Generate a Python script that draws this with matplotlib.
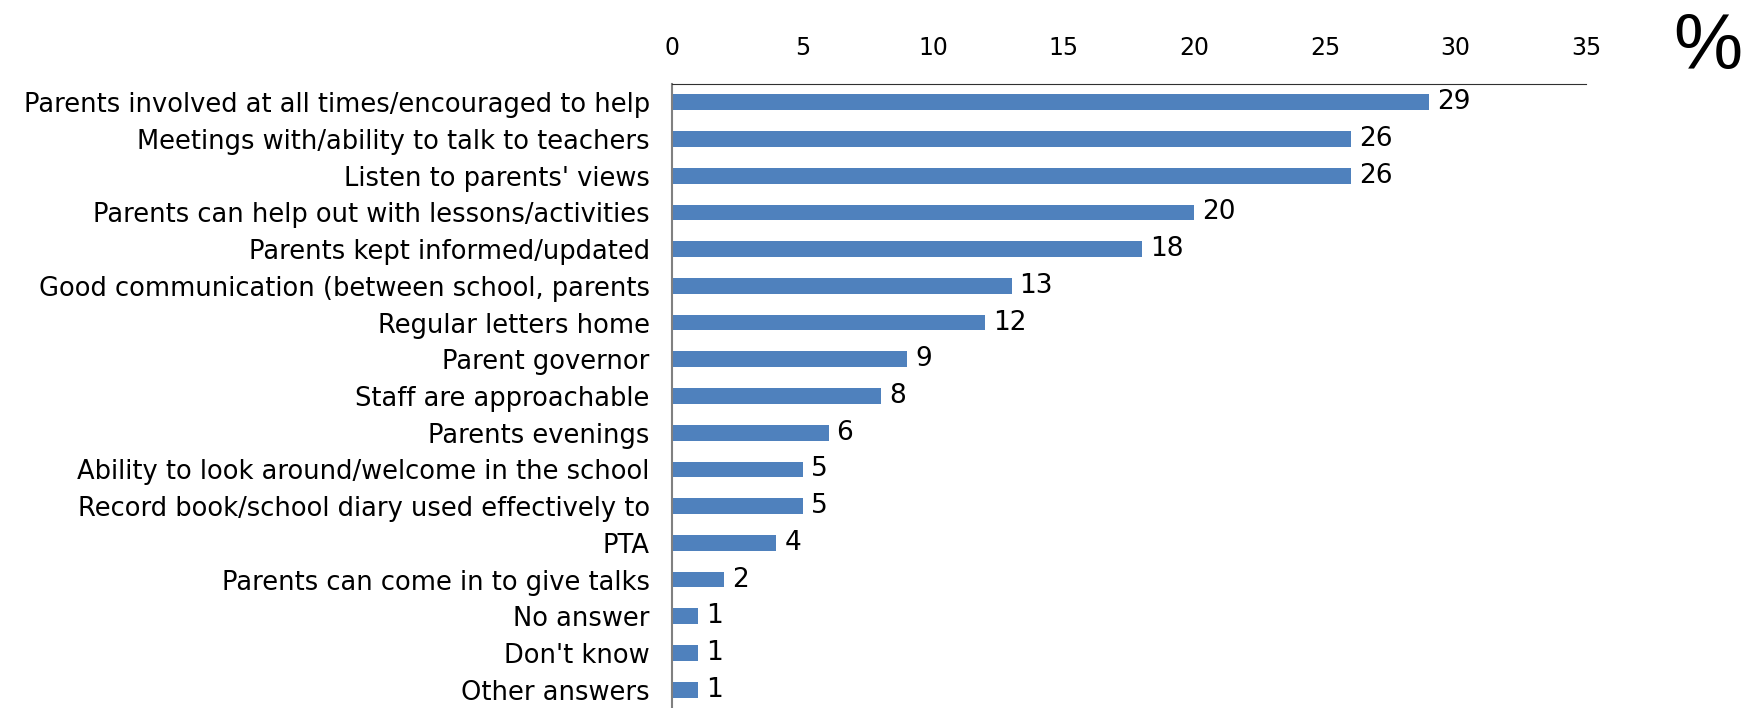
import matplotlib.pyplot as plt

categories = [
    "Parents involved at all times/encouraged to help",
    "Meetings with/ability to talk to teachers",
    "Listen to parents' views",
    "Parents can help out with lessons/activities",
    "Parents kept informed/updated",
    "Good communication (between school, parents",
    "Regular letters home",
    "Parent governor",
    "Staff are approachable",
    "Parents evenings",
    "Ability to look around/welcome in the school",
    "Record book/school diary used effectively to",
    "PTA",
    "Parents can come in to give talks",
    "No answer",
    "Don't know",
    "Other answers",
]
values = [29, 26, 26, 20, 18, 13, 12, 9, 8, 6, 5, 5, 4, 2, 1, 1, 1]
x_ticks = [0, 5, 10, 15, 20, 25, 30, 35]

plt.rcParams['font.family'] = ['DejaVu Sans']

fig = plt.figure(figsize=(17.51, 7.08), dpi=100)
ax = fig.add_axes([0.3838, 0.0, 0.5220, 0.8814])

pos = list(range(len(categories)))
ax.barh(pos, values, height=0.43, color='#4F81BD')
for p, v in zip(pos, values):
    ax.text(v + 0.3, p, str(v), va='center', ha='left', fontsize=19)

ax.set_xlim(0, 35)
ax.set_ylim(len(categories) - 0.5, -0.5)
ax.set_yticks(pos)
ax.set_yticklabels(categories, fontsize=18.5)
ax.xaxis.tick_top()
ax.set_xticks(x_ticks)
ax.set_xticklabels([str(t) for t in x_ticks], fontsize=17)
ax.tick_params(axis='x', length=0, pad=17)
ax.tick_params(axis='y', length=0, pad=16)

ax.spines['right'].set_visible(False)
ax.spines['bottom'].set_visible(False)
ax.spines['top'].set_color('#303030')
ax.spines['left'].set_color('#808080')
ax.spines['left'].set_linewidth(1.5)

fig.text(0.995, 0.902, '%', fontsize=56, ha='right', va='baseline',
         family='Liberation Sans')

fig.savefig('out.png', dpi=100)
